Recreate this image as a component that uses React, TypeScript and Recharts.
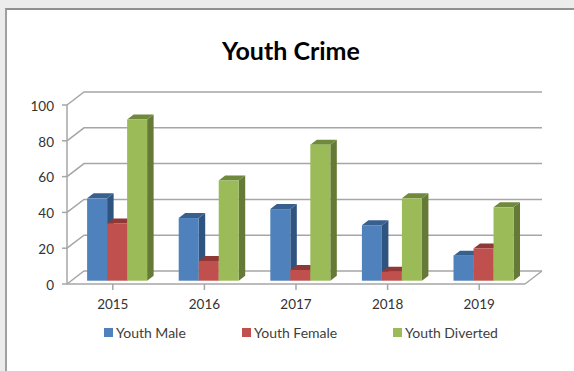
import { BarChart, Bar, XAxis, YAxis, CartesianGrid, Legend } from 'recharts';

const years = ['2015', '2016', '2017', '2018', '2019'];
const youthMale = [46, 35, 40, 31, 14];
const youthFemale = [32, 11, 6, 5, 18];
const youthDiverted = [90, 56, 76, 46, 41];
const valueTicks = [0, 20, 40, 60, 80, 100];
const seriesOrder = ['Youth Male', 'Youth Female', 'Youth Diverted'];

const data = years.map((year, i) => ({
  year,
  male: youthMale[i],
  female: youthFemale[i],
  diverted: youthDiverted[i],
}));

const FONT = 'Lato, "Open Sans", sans-serif';
const GRID = '#a6a6a6';

// back wall sits up and to the right of the front axis plane
const WALL_DX = 17;
const WALL_DY = -13;
// bars stand a little behind the front edge of the floor
const BAR_DX = 5;
const BAR_DY = -3.3;
const DEPTH_X = 6.5;
const DEPTH_Y = -5;

function WallLine({ x1, x2, y1, index }: any) {
  const backY = y1 + WALL_DY;
  return (
    <g key={index} fill="none" stroke={GRID} strokeWidth={1.5}>
      <polyline points={`${x1},${y1} ${x1 + WALL_DX},${backY} ${x2 + WALL_DX},${backY}`} />
      {y1 > 280 && <line x1={x2} y1={y1} x2={x2 + WALL_DX} y2={backY} />}
    </g>
  );
}

function Bar3D({ x, y, width, height, fill, side, top }: any) {
  const l = x + BAR_DX;
  const r = l + width;
  const t = y + BAR_DY;
  const b = t + height;
  return (
    <g>
      <polygon
        points={`${r},${t} ${r + DEPTH_X},${t + DEPTH_Y} ${r + DEPTH_X},${b + DEPTH_Y} ${r},${b}`}
        fill={side}
      />
      <polygon
        points={`${l},${t} ${l + DEPTH_X},${t + DEPTH_Y} ${r + DEPTH_X},${t + DEPTH_Y} ${r},${t}`}
        fill={top}
      />
      <rect x={l} y={t} width={width} height={height} fill={fill} />
    </g>
  );
}

function LegendRow({ payload }: any) {
  return (
    <div style={{ fontFamily: FONT, fontSize: 14, color: '#404040' }}>
      {(payload ?? []).map((item: any, i: number) => (
        <div
          key={item.value}
          style={{
            display: 'flex',
            alignItems: 'center',
            position: 'absolute',
            left: [104, 242, 393][i],
          }}
        >
          <span style={{ width: 9, height: 9, background: item.color, marginRight: 3 }} />
          <span style={{ whiteSpace: 'nowrap' }}>{item.value}</span>
        </div>
      ))}
    </div>
  );
}

export default function App() {
  const tickStyle = { fontSize: 13.5, fill: '#333333', fontFamily: FONT };

  return (
    <div style={{ position: 'absolute', left: 0, top: 0, width: 574, height: 371, background: '#ececec', overflow: 'hidden' }}>
      <div
        style={{
          position: 'absolute',
          left: 5,
          top: 8,
          width: 569,
          height: 363,
          boxSizing: 'border-box',
          background: '#ffffff',
          borderLeft: '2px solid #a0a0a0',
          borderTop: '2px solid #909090',
        }}
      />
      <div
        style={{
          position: 'absolute',
          left: 0,
          width: 574,
          top: 35,
          textAlign: 'center',
          paddingLeft: 8,
          boxSizing: 'border-box',
          fontFamily: FONT,
          fontWeight: 700,
          fontSize: 25,
          lineHeight: '30px',
          color: '#000000',
        }}
      >
        Youth Crime
      </div>
      <div style={{ position: 'absolute', left: 0, top: 0 }}>
        <BarChart
          width={574}
          height={371}
          data={data}
          margin={{ top: 105, right: 49, bottom: 37, left: 22 }}
          barCategoryGap="16.5%"
          barGap={0}
        >
          <CartesianGrid
            vertical={false}
            horizontal={(props: any) => <WallLine {...props} />}
          />
          <XAxis
            dataKey="year"
            height={30}
            axisLine={{ stroke: GRID, strokeWidth: 1.5 }}
            tickLine={{ stroke: GRID, strokeWidth: 1.5 }}
            tickSize={6}
            tick={tickStyle}
            tickMargin={9}
          />
          <YAxis
            width={45}
            domain={[0, 100]}
            ticks={valueTicks}
            interval={0}
            axisLine={{ stroke: GRID, strokeWidth: 1.5 }}
            tickLine={{ stroke: GRID, strokeWidth: 1.5 }}
            tickSize={5}
            tick={{ ...tickStyle, dy: 1 }}
            tickMargin={8}
          />
          <Legend
            height={20}
            content={<LegendRow />}
            itemSorter={(item: any) => seriesOrder.indexOf(item.value)}
            wrapperStyle={{ left: 0, top: 324, width: 574 }}
          />
          <Bar
            dataKey="male"
            name="Youth Male"
            fill="#4f81bd"
            isAnimationActive={false}
            shape={(props: any) => <Bar3D {...props} side="#2f5480" top="#37608f" />}
          />
          <Bar
            dataKey="female"
            name="Youth Female"
            fill="#c0504d"
            isAnimationActive={false}
            shape={(props: any) => <Bar3D {...props} side="#8a3230" top="#8f3836" />}
          />
          <Bar
            dataKey="diverted"
            name="Youth Diverted"
            fill="#9bbb59"
            isAnimationActive={false}
            shape={(props: any) => <Bar3D {...props} side="#667a37" top="#6f8a3c" />}
          />
        </BarChart>
      </div>
    </div>
  );
}
